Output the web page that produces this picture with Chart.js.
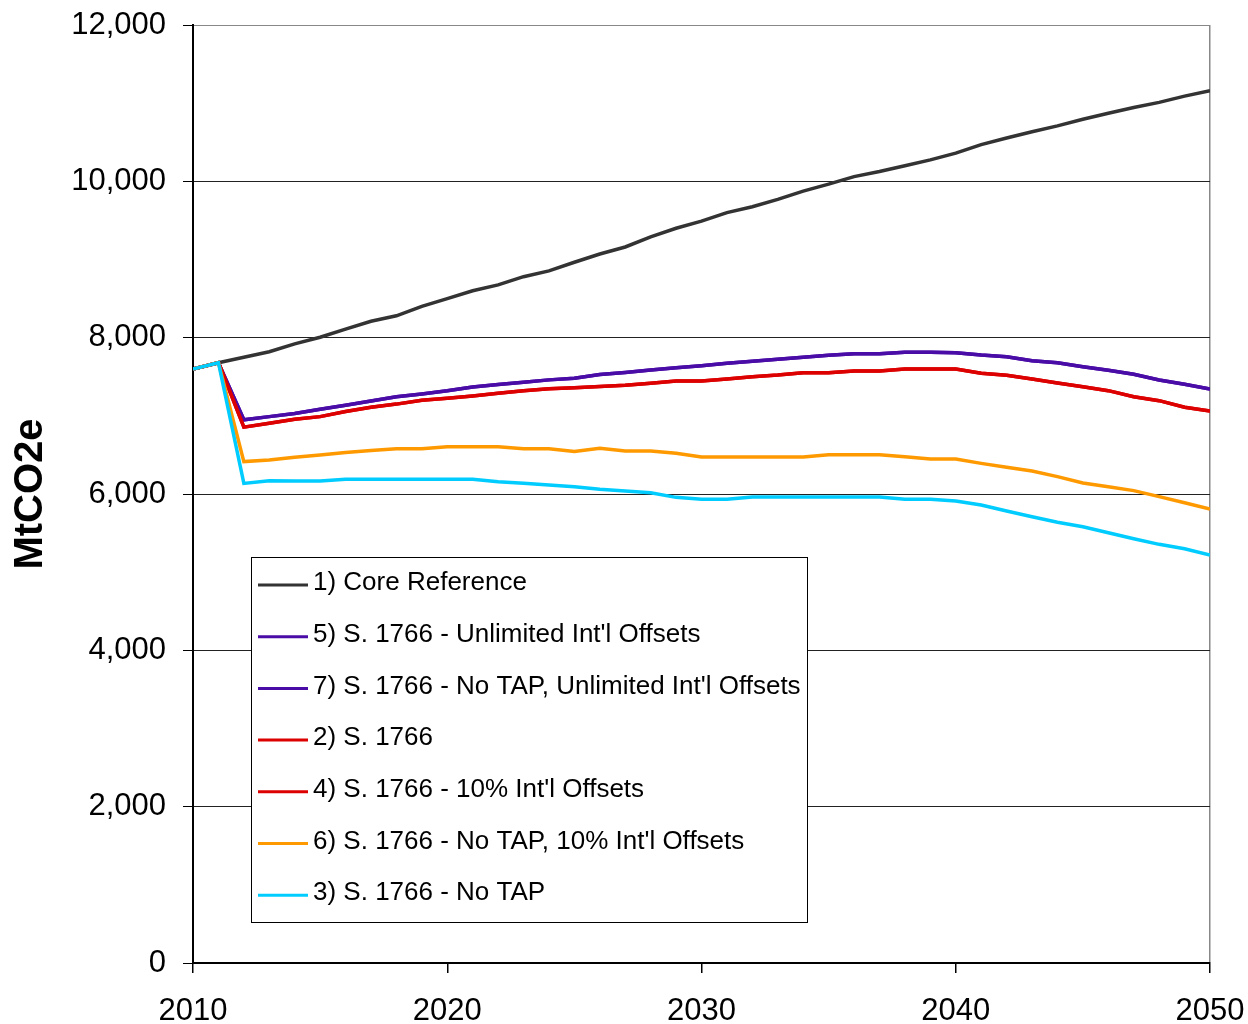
<!DOCTYPE html>
<html>
<head>
<meta charset="utf-8">
<title>MtCO2e</title>
<script src="https://cdn.jsdelivr.net/npm/chart.js@4.4.1/dist/chart.umd.min.js"></script>
<style>
    body { margin: 0; background: #fff; }
    #wrap { width: 1248px; height: 1024px; }
</style>
</head>
<body>
<div id="wrap"><canvas id="mainChart" width="1248" height="1024"></canvas></div>
<script>
const years = [2010,2011,2012,2013,2014,2015,2016,2017,2018,2019,2020,
    2021,2022,2023,2024,2025,2026,2027,2028,2029,2030,
    2031,2032,2033,2034,2035,2036,2037,2038,2039,2040,
    2041,2042,2043,2044,2045,2046,2047,2048,2049,2050];

const coreReference = [7600,7680,7750,7820,7920,8005,8110,8210,8280,8400,8500,
    8600,8675,8780,8855,8965,9070,9160,9290,9400,9490,
    9600,9675,9770,9875,9965,10060,10125,10200,10275,10360,
    10470,10555,10635,10710,10795,10870,10945,11010,11090,11160];

const unlimitedOffsets = [7600,7680,6950,6990,7030,7085,7135,7190,7245,7280,7320,
    7370,7400,7430,7460,7480,7530,7555,7586,7616,7642,
    7672,7697,7723,7748,7774,7795,7795,7812,7812,7808,
    7778,7757,7706,7680,7629,7582,7531,7459,7403,7343];

const noTapUnlimited = unlimitedOffsets.slice();

const s1766 = [7600,7680,6855,6905,6955,6990,7055,7110,7150,7200,7225,
    7255,7290,7320,7345,7360,7375,7390,7416,7446,7446,
    7471,7501,7522,7552,7552,7573,7573,7599,7599,7599,
    7544,7518,7471,7420,7373,7322,7245,7194,7109,7062];

const tenPctOffsets = s1766.slice();

const noTapTenPct = [7600,7680,6415,6435,6470,6500,6530,6555,6580,6580,6605,
    6605,6605,6580,6580,6545,6584,6550,6550,6520,6473,
    6473,6473,6473,6473,6503,6503,6503,6477,6448,6448,
    6392,6341,6294,6222,6141,6094,6043,5966,5889,5808];

const noTap = [7600,7680,6136,6170,6165,6165,6188,6188,6188,6188,6188,
    6188,6158,6136,6115,6094,6060,6038,6017,5957,5932,
    5932,5962,5962,5962,5962,5962,5962,5932,5932,5910,
    5859,5782,5710,5638,5582,5505,5428,5356,5300,5219];

const seriesNames = [
    "1) Core Reference",
    "5) S. 1766 - Unlimited Int'l Offsets",
    "7) S. 1766 - No TAP, Unlimited Int'l Offsets",
    "2) S. 1766",
    "4) S. 1766 - 10% Int'l Offsets",
    "6) S. 1766 - No TAP, 10% Int'l Offsets",
    "3) S. 1766 - No TAP"
];
const seriesValues = [coreReference, unlimitedOffsets, noTapUnlimited, s1766, tenPctOffsets, noTapTenPct, noTap];
const seriesColors = ['#333333', '#4a0ca6', '#4a0ca6', '#dd0000', '#dd0000', '#ff9900', '#00ccff'];

const yTicks = [0, 2000, 4000, 6000, 8000, 10000, 12000];
const xTicks = [2010, 2020, 2030, 2040, 2050];

const FONT = "'Liberation Sans', Arial, sans-serif";

var datasets = [];
for (let i = 0; i < seriesNames.length; i++) {
    datasets.push({
        label: seriesNames[i],
        data: years.map((yr, k) => ({x: yr, y: seriesValues[i][k]})),
        borderColor: seriesColors[i],
        backgroundColor: seriesColors[i],
        borderWidth: 3.5,
        pointRadius: 0,
        tension: 0,
        order: seriesNames.length - i
    });
}

// legend box drawn inside the plot, like the original
const boxLegend = {
    id: 'boxLegend',
    afterDraw(chart) {
        const c = chart.ctx;
        const left = 251.5, top = 557.5, w = 556, h = 365;
        c.save();
        c.fillStyle = '#fff';
        c.fillRect(left, top, w, h);
        c.strokeStyle = '#000';
        c.lineWidth = 1;
        c.strokeRect(left, top, w, h);
        c.font = '26px ' + FONT;
        c.textBaseline = 'middle';
        c.textAlign = 'left';
        chart.data.datasets.forEach((ds, i) => {
            const y = 585 + i * 51.7;
            c.strokeStyle = ds.borderColor;
            c.lineWidth = 3;
            c.beginPath();
            c.moveTo(258, y);
            c.lineTo(308, y);
            c.stroke();
            c.fillStyle = '#000';
            c.fillText(ds.label, 313, y - 2);
        });
        c.restore();
    }
};

const ctx = document.getElementById('mainChart');
new Chart(ctx, {
    type: 'line',
    data: { datasets: datasets },
    options: {
        responsive: false,
        animation: false,
        layout: { padding: { top: 25, right: 38, left: 0, bottom: 0 } },
        plugins: {
            legend: { display: false },
            tooltip: { enabled: false }
        },
        scales: {
            x: {
                type: 'linear',
                min: 2010,
                max: 2050,
                afterBuildTicks: s => { s.ticks = xTicks.map(v => ({value: v})); },
                afterFit: s => { s.height = 61; s.paddingLeft = 0; s.paddingRight = 0; },
                ticks: {
                    color: '#000',
                    font: { family: FONT, size: 31 },
                    padding: 20,
                    maxRotation: 0,
                    callback: v => String(v)
                },
                grid: {
                    color: c => (c.tick && c.tick.value === 2050) ? '#888' : 'rgba(0,0,0,0)',
                    tickColor: '#000',
                    tickLength: 10,
                    lineWidth: 1.5
                },
                border: { color: '#000', width: 2 }
            },
            y: {
                min: 0,
                max: 12000,
                afterBuildTicks: s => { s.ticks = yTicks.map(v => ({value: v})); },
                afterFit: s => { s.width = 193; s.paddingTop = 0; s.paddingBottom = 0; },
                ticks: {
                    color: '#000',
                    font: { family: FONT, size: 31 },
                    padding: 17,
                    callback: v => v.toLocaleString('en-US')
                },
                grid: {
                    color: c => (c.tick && c.tick.value === 12000) ? '#888' : '#222',
                    tickColor: '#000',
                    tickLength: 10,
                    lineWidth: 1
                },
                border: { color: '#000', width: 2 },
                title: {
                    display: true,
                    text: 'MtCO2e',
                    color: '#000',
                    font: { family: "'Liberation Sans Narrow', " + FONT, size: 40, weight: 'bold' },
                    padding: { top: 7, bottom: 0 }
                }
            }
        }
    },
    plugins: [boxLegend]
});
</script>
</body>
</html>
